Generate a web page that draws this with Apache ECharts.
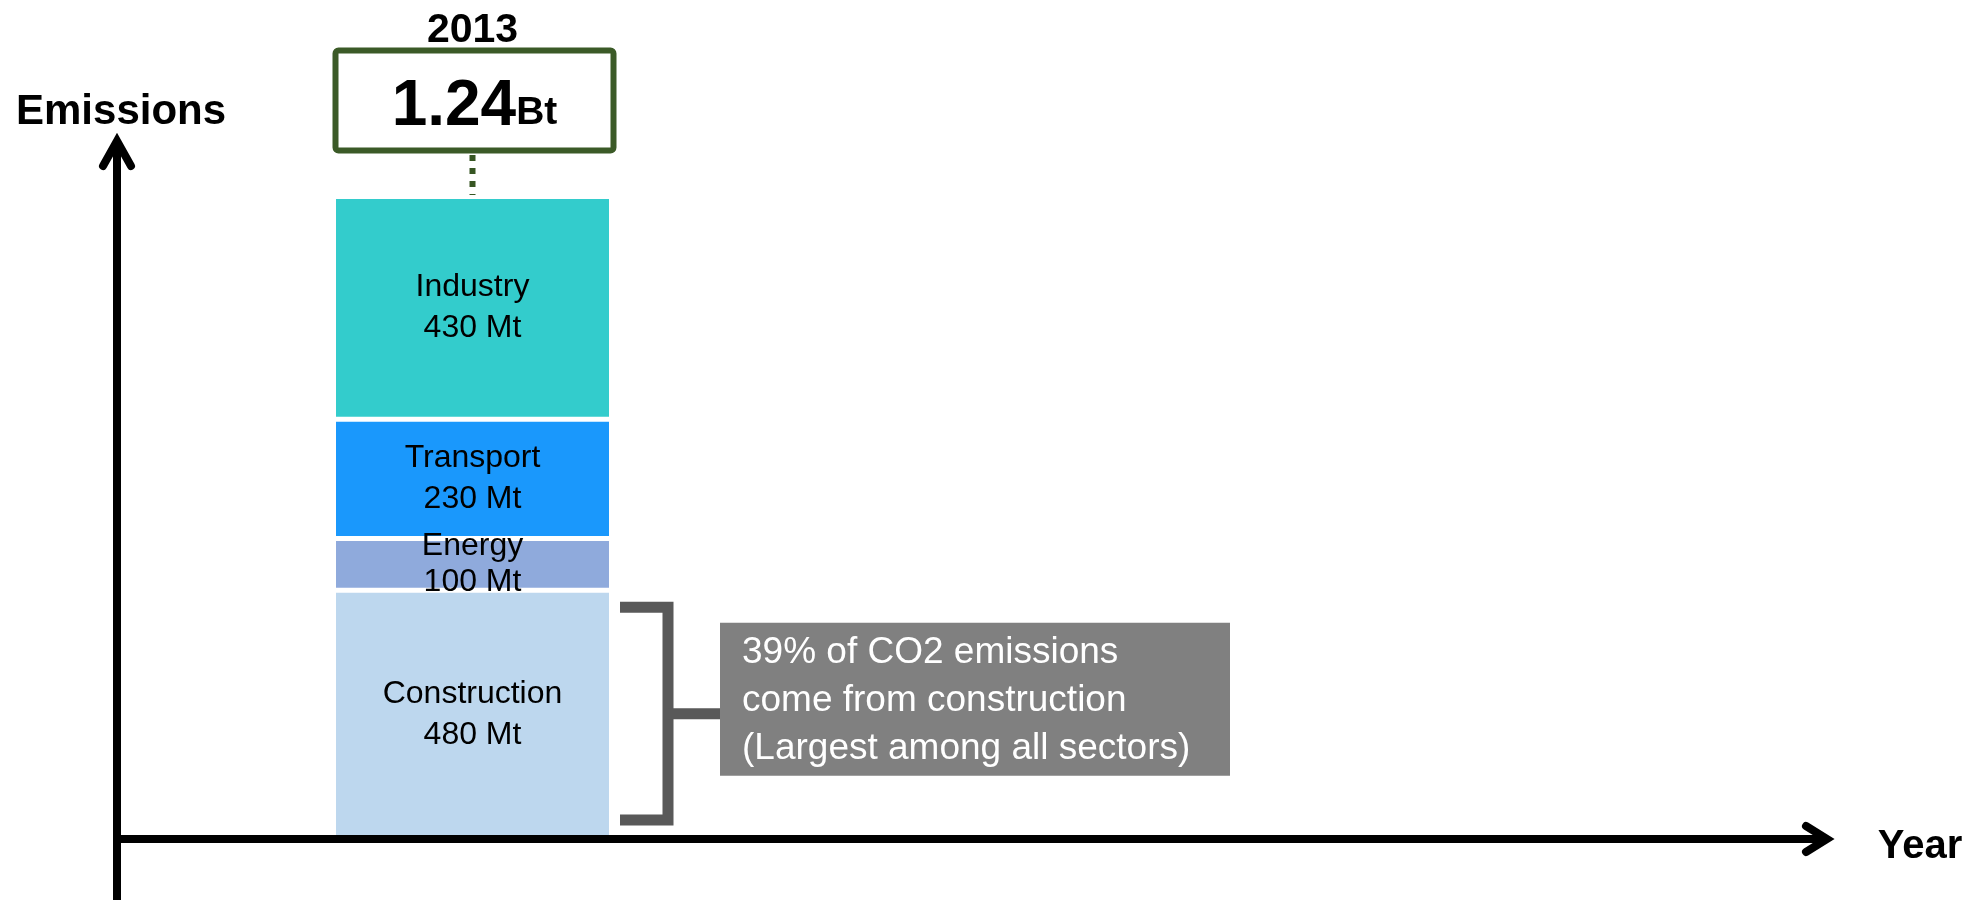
<!DOCTYPE html>
<html>
<head>
<meta charset="utf-8">
<script src="https://cdn.jsdelivr.net/npm/echarts@6/dist/echarts.min.js"></script>
<style>
  html, body { margin: 0; padding: 0; background: #ffffff; }
  #chart { width: 1988px; height: 900px; }
</style>
</head>
<body>
<div id="chart"></div>
<script>
// ---------------- data ----------------
const categories = ['2013'];
const sectors = ['Construction', 'Energy', 'Transport', 'Industry'];
const emissionsMt = [480, 100, 230, 430];
const axisTitles = ['Emissions', 'Year'];
const calloutLines = ['of CO2 emissions', 'come from construction', '(Largest among all sectors)'];

// ---------------- styles / layout ----------------
const FONT = "'Liberation Sans', Arial, Helvetica, sans-serif";
const sectorColors = ['#BDD7EE', '#8FAADC', '#1A98FC', '#33CCCC'];
const BAR_WIDTH = 278;
const GRID = { left: 117, top: 196.5, width: 711, bottom: 61 };
const AXIS_X = 117, AXIS_Y = 839;

const total = emissionsMt.reduce((a, b) => a + b, 0);
const constructionIdx = sectors.indexOf('Construction');
const share = Math.round(emissionsMt[constructionIdx] / total * 100);

const chart = echarts.init(document.getElementById('chart'), null, { renderer: 'canvas' });

const barSeries = sectors.map((name, i) => ({
  type: 'bar',
  name: name,
  stack: 'total',
  data: [emissionsMt[i]],
  barWidth: BAR_WIDTH,
  itemStyle: { color: sectorColors[i], borderColor: '#ffffff', borderWidth: 2.5 },
  label: {
    show: true,
    position: 'inside',
    formatter: p => p.seriesName + '\n' + p.value + ' Mt',
    color: '#000000',
    fontFamily: FONT,
    fontSize: 32,
    lineHeight: i === 1 ? 36 : 41
  },
  z: 2
}));

// total box, year label and dotted connector
const totalSeries = {
  type: 'custom',
  coordinateSystem: 'cartesian2d',
  clip: false,
  z: 5,
  data: [[0, total]],
  encode: { x: 0, y: 1 },
  renderItem: function (params, api) {
    const p = api.coord([api.value(0), api.value(1)]);
    const cx = p[0], top = p[1];
    return {
      type: 'group',
      children: [
        {
          type: 'line',
          shape: { x1: cx, y1: top - 41.5, x2: cx, y2: top - 1.5 },
          style: { stroke: '#375623', lineWidth: 6, lineDash: [6, 7] }
        },
        {
          type: 'rect',
          shape: { x: cx - 139 + 2, y: top - 146, width: 278, height: 100, r: 3 },
          style: { fill: '#ffffff', stroke: '#3B5A27', lineWidth: 6 }
        },
        {
          type: 'text',
          style: {
            x: cx + 2, y: top - 93,
            align: 'center', verticalAlign: 'middle',
            text: '{v|' + (api.value(1) / 1000).toFixed(2) + '}{u|Bt}',
            rich: {
              v: { fontSize: 64, fontWeight: 'bold', fontFamily: FONT, fill: '#000', lineHeight: 72, verticalAlign: 'bottom' },
              u: { fontSize: 39, fontWeight: 'bold', fontFamily: FONT, fill: '#000', lineHeight: 44, verticalAlign: 'bottom', padding: [0, 0, 7, 0] }
            }
          }
        },
        {
          type: 'text',
          style: {
            x: cx, y: top - 166,
            align: 'center', verticalAlign: 'middle',
            text: categories[api.value(0)],
            fontSize: 41, fontWeight: 'bold', fontFamily: FONT, fill: '#000'
          }
        }
      ]
    };
  }
};

// bracket + callout box for construction segment
const calloutSeries = {
  type: 'custom',
  coordinateSystem: 'cartesian2d',
  clip: false,
  z: 5,
  data: [[0, emissionsMt[constructionIdx]]],
  encode: { x: 0, y: 1 },
  renderItem: function (params, api) {
    const p0 = api.coord([api.value(0), 0]);
    const p1 = api.coord([api.value(0), api.value(1)]);
    const right = p0[0] + BAR_WIDTH / 2 - 2.5;
    const yTop = p1[1] + 17, yBot = p0[1] - 19;
    const mid = (yTop + yBot) / 2;
    const boxTop = mid - 91;
    return {
      type: 'group',
      children: [
        {
          type: 'polyline',
          shape: { points: [[right + 11, yTop], [right + 59, yTop], [right + 59, yBot], [right + 11, yBot]] },
          style: { stroke: '#595959', lineWidth: 11, fill: null, lineJoin: 'miter' }
        },
        {
          type: 'line',
          shape: { x1: right + 59, y1: mid, x2: right + 112, y2: mid },
          style: { stroke: '#595959', lineWidth: 11 }
        },
        {
          type: 'rect',
          shape: { x: right + 111, y: boxTop, width: 510, height: 153 },
          style: { fill: '#808080' }
        },
        {
          type: 'text',
          style: {
            x: right + 133, y: boxTop + 78,
            align: 'left', verticalAlign: 'middle',
            text: share + '% ' + calloutLines[0] + '\n' + calloutLines[1] + '\n' + calloutLines[2],
            fontSize: 37, lineHeight: 48, fontFamily: FONT, fill: '#ffffff'
          }
        }
      ]
    };
  }
};

const option = {
  animation: false,
  backgroundColor: '#ffffff',
  grid: { left: GRID.left, top: GRID.top, width: GRID.width, bottom: GRID.bottom, containLabel: false },
  xAxis: {
    type: 'category',
    data: categories,
    show: false
  },
  yAxis: {
    type: 'value',
    min: 0,
    max: total,
    show: false
  },
  series: barSeries.concat([totalSeries, calloutSeries]),
  graphic: [
    // y axis with arrow
    { type: 'line', z: 100, shape: { x1: AXIS_X, y1: 900, x2: AXIS_X, y2: 142 }, style: { stroke: '#000', lineWidth: 8 } },
    { type: 'polyline', z: 100, shape: { points: [[AXIS_X - 14, 166], [AXIS_X, 141], [AXIS_X + 14, 166]] },
      style: { stroke: '#000', lineWidth: 8, fill: null, lineCap: 'round', lineJoin: 'miter' } },
    // x axis with arrow
    { type: 'line', z: 100, shape: { x1: AXIS_X - 4, y1: AXIS_Y, x2: 1828, y2: AXIS_Y }, style: { stroke: '#000', lineWidth: 8 } },
    { type: 'polyline', z: 100, shape: { points: [[1806, AXIS_Y - 13], [1827, AXIS_Y], [1806, AXIS_Y + 13]] },
      style: { stroke: '#000', lineWidth: 8, fill: null, lineCap: 'round', lineJoin: 'miter' } },
    { type: 'text', z: 100, style: { x: 16, y: 112, text: axisTitles[0], align: 'left', verticalAlign: 'middle',
      fontSize: 42, fontWeight: 'bold', fontFamily: FONT, fill: '#000' } },
    { type: 'text', z: 100, style: { x: 1920, y: 847, text: axisTitles[1], align: 'center', verticalAlign: 'middle',
      fontSize: 40, fontWeight: 'bold', fontFamily: FONT, fill: '#000' } }
  ]
};

chart.setOption(option);
</script>
</body>
</html>
